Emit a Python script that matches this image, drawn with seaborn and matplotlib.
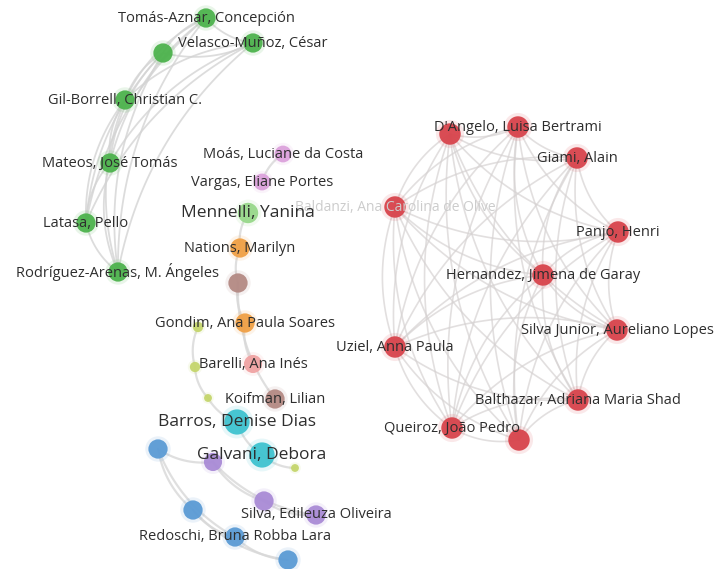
import numpy as np
import pandas as pd
import matplotlib
matplotlib.use("Agg")
import matplotlib.pyplot as plt
import seaborn as sns

# ---- data ----
labels = [
    "", "D'Angelo, Luisa Bertrami", "Giami, Alain", "Baldanzi, Ana Carolina de Olive",
    "Panjo, Henri", "Hernandez, Jimena de Garay", "Silva Junior, Aureliano Lopes",
    "Uziel, Anna Paula", "Balthazar, Adriana Maria Shad", "Queiroz, João Pedro", "",
    "Tomás-Aznar, Concepción", "", "Velasco-Muñoz, César", "Gil-Borrell, Christian C.",
    "Mateos, José Tomás", "Latasa, Pello", "Rodríguez-Arenas, M. Ángeles",
    "Moás, Luciane da Costa", "Vargas, Eliane Portes", "Mennelli, Yanina",
    "Nations, Marilyn", "", "Gondim, Ana Paula Soares", "", "Barelli, Ana Inés", "", "",
    "Koifman, Lilian", "Barros, Denise Dias", "Galvani, Debora", "", "", "", "",
    "Silva, Edileuza Oliveira", "", "Redoschi, Bruna Robba Lara", "",
]
node_x = [450, 518, 577, 395, 618, 543, 617, 395, 578, 452, 519,
          206, 163, 253, 125, 110, 86, 118,
          283, 262, 248, 240, 238, 245, 198, 253, 195, 208, 275, 237, 262,
          213, 295, 158, 264, 316, 193, 235, 288]
node_y = [134, 127, 158, 207, 232, 275, 330, 347, 400, 428, 440,
          18, 53, 43, 100, 163, 223, 272,
          154, 182, 213, 248, 283, 323, 327, 364, 367, 398, 399, 422, 455,
          462, 468, 449, 501, 515, 510, 537, 560]
cluster = ["red"] * 11 + ["green"] * 7 + [
    "pink", "pink", "lightgreen", "orange", "brown", "orange", "yellowgreen", "lightred",
    "yellowgreen", "yellowgreen", "brown", "cyan", "cyan", "purple", "yellowgreen",
    "blue", "purple", "purple", "blue", "blue", "blue"]
weight = [3, 3, 3, 3, 3, 3, 3, 3, 3, 3, 3,
          2.6, 2.6, 2.6, 2.6, 2.6, 2.6, 2.6,
          2.2, 2.2, 2.8, 2.6, 2.6, 2.6, 1.4, 2.4, 1.4, 1.2, 2.6, 3.8, 3.8,
          2.4, 1.2, 2.6, 2.6, 2.6, 2.6, 2.6, 2.6]
big_label = {"Mennelli, Yanina", "Barros, Denise Dias", "Galvani, Debora"}
faint_label = {"Baldanzi, Ana Carolina de Olive"}

red_ids = list(range(11))
green_ids = list(range(11, 18))
edges_red = [(i, j) for i in red_ids for j in red_ids if i < j]
edges_green = [(i, j) for i in green_ids for j in green_ids if i < j]
edges_other = [(18, 19), (20, 21), (21, 22), (22, 23), (22, 28), (24, 26), (26, 27),
               (27, 29), (29, 30), (30, 32), (33, 31), (31, 34), (31, 35), (34, 35),
               (33, 36), (36, 37), (33, 37), (37, 38), (36, 38), (23, 25)]

palette = {
    "red": "#d8444c", "green": "#4db34d", "pink": "#dca2dc", "lightgreen": "#98d88a",
    "orange": "#f0a045", "brown": "#b48a84", "yellowgreen": "#c5d66c",
    "lightred": "#f0a3a3", "cyan": "#3ec3cf", "purple": "#a98bd6", "blue": "#5b9bd5",
}

df = pd.DataFrame({"label": labels, "x": node_x, "y": node_y,
                   "cluster": cluster, "w": weight})

# ---- figure ----
sns.set_style("white")
fig = plt.figure(figsize=(7.22, 5.69), dpi=100)
ax = fig.add_axes([0, 0, 1, 1])


def curve(p, q, bend=0.18, n=40):
    p = np.asarray(p, float)
    q = np.asarray(q, float)
    mid = (p + q) / 2
    d = q - p
    perp = np.array([-d[1], d[0]])
    c = mid + bend * perp
    t = np.linspace(0, 1, n)[:, None]
    return (1 - t) ** 2 * p + 2 * (1 - t) * t * c + t ** 2 * q


for edges, col, lw, a in [(edges_red, "#d6d2d2", 1.2, 0.7),
                          (edges_green, "#d4d4d4", 1.3, 0.8),
                          (edges_other, "#d8d8d8", 1.6, 0.8)]:
    for i, j in edges:
        pts = curve((df.x[i], df.y[i]), (df.x[j], df.y[j]))
        ax.plot(pts[:, 0], pts[:, 1], color=col, lw=lw, alpha=a, zorder=1,
                solid_capstyle="round")

# soft halo
sns.scatterplot(data=df, x="x", y="y", hue="cluster", palette=palette,
                size="w", sizes=(70, 560), size_norm=(1.2, 3.8),
                alpha=0.12, linewidth=0, legend=False, ax=ax, zorder=2)
sns.scatterplot(data=df, x="x", y="y", hue="cluster", palette=palette,
                size="w", sizes=(32, 330), size_norm=(1.2, 3.8),
                alpha=0.95, linewidth=0, legend=False, ax=ax, zorder=3)
ax.set_xlim(0, 722)
ax.set_ylim(569, 0)
ax.axis("off")

for _, r in df.iterrows():
    if not r.label:
        continue
    if r.label in faint_label:
        ax.text(r.x, r.y, r.label, ha="center", va="center", fontsize=10,
                color="#cccccc", family="Open Sans", zorder=4)
    elif r.label in big_label:
        ax.text(r.x, r.y, r.label, ha="center", va="center", fontsize=12.5,
                color="#2e2e2e", family="Open Sans", zorder=4)
    else:
        ax.text(r.x, r.y, r.label, ha="center", va="center", fontsize=10.5,
                color="#2e2e2e", family="Open Sans", zorder=4)

fig.savefig("out.png", dpi=100)
